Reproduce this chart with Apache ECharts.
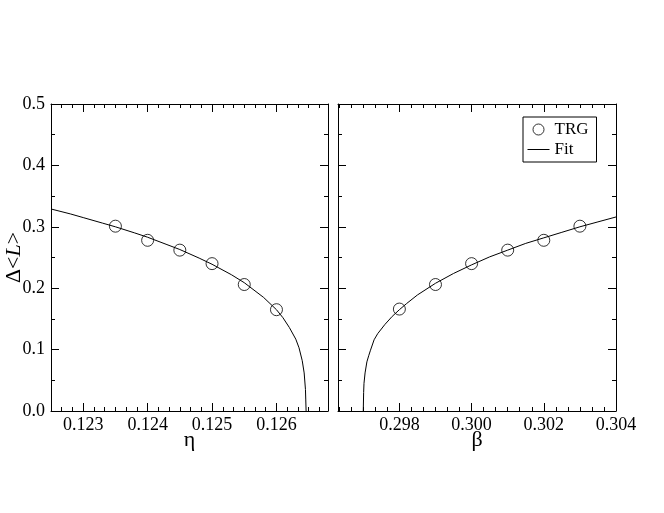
<!DOCTYPE html>
<html>
<head>
<meta charset="utf-8">
<script src="https://cdn.jsdelivr.net/npm/echarts@6/dist/echarts.min.js"></script>
<style>
html, body { margin: 0; padding: 0; background: #fff; }
#main { width: 664px; height: 513px; }
</style>
</head>
<body>
<div id="main"></div>
<script>
// TRG points, eta side
var etaX = [0.1235, 0.1240, 0.1245, 0.1250, 0.1255, 0.1260];
var etaY = [0.301, 0.278, 0.262, 0.240, 0.206, 0.165];
// fit curve, eta side
var etaFitX = [0.1225, 0.1228, 0.1230, 0.1233, 0.1235, 0.1238, 0.1240, 0.1243, 0.1245, 0.1248, 0.1250, 0.1253, 0.1255, 0.1258, 0.1260, 0.1261, 0.1262, 0.1263, 0.12635, 0.1264, 0.12643, 0.12645, 0.126455, 0.12646];
var etaFitY = [0.329, 0.321, 0.315, 0.306, 0.300, 0.290, 0.283, 0.271, 0.263, 0.249, 0.239, 0.222, 0.209, 0.185, 0.165, 0.152, 0.136, 0.117, 0.103, 0.082, 0.062, 0.035, 0.018, 0.0];
// TRG points, beta side
var betaX = [0.298, 0.299, 0.300, 0.301, 0.302, 0.303];
var betaY = [0.166, 0.206, 0.240, 0.262, 0.278, 0.301];
// fit curve, beta side
var betaFitX = [0.2970, 0.29701, 0.29702, 0.29705, 0.2971, 0.29715, 0.2972, 0.2973, 0.2974, 0.2976, 0.2978, 0.2980, 0.2982, 0.2985, 0.2990, 0.2995, 0.3000, 0.3005, 0.3010, 0.3015, 0.3020, 0.3025, 0.3030, 0.3035, 0.3040];
var betaFitY = [0.0, 0.030, 0.045, 0.062, 0.080, 0.090, 0.099, 0.116, 0.126, 0.141, 0.154, 0.165, 0.175, 0.189, 0.208, 0.224, 0.238, 0.251, 0.262, 0.273, 0.282, 0.291, 0.300, 0.308, 0.316];

function zip(a, b) {
	return a.map(function(v, i) { return [v, b[i]]; });
}

var font = 'Liberation Serif';

function xAxisOf(gi, min, max, pos, name) {
	return {
		type: 'value', gridIndex: gi, position: pos,
		min: min, max: max, splitNumber: 4,
		name: name, nameLocation: 'middle', nameGap: 18, nameMoveOverlap: false,
		nameTextStyle: { fontFamily: font, fontSize: 22, color: '#000' },
		axisLine: { show: true, onZero: false, lineStyle: { color: '#000', width: 1 } },
		axisTick: { show: true, inside: true, length: 8, lineStyle: { color: '#000' } },
		minorTick: { show: true, splitNumber: 6, length: 4, lineStyle: { color: '#000' } },
		axisLabel: {
			show: pos == 'bottom', showMinLabel: false, showMaxLabel: min > 0.2, margin: 5,
			fontFamily: font, fontSize: 18, color: '#000',
			formatter: function(v) { return v.toFixed(3); }
		},
		splitLine: { show: false }
	};
}

function yAxisOf(gi, pos, labels, name) {
	return {
		type: 'value', gridIndex: gi, position: pos,
		min: 0, max: 0.5, interval: 0.1,
		name: name || '', nameLocation: 'middle', nameGap: 26, nameRotate: 90, nameMoveOverlap: false,
		nameTextStyle: {
			fontFamily: font, fontSize: 22, color: '#000',
			rich: { i: { fontFamily: font, fontSize: 22, fontStyle: 'italic', color: '#000' } }
		},
		axisLine: { show: true, onZero: false, lineStyle: { color: '#000', width: 1 } },
		axisTick: { show: true, inside: true, length: 8, lineStyle: { color: '#000' } },
		minorTick: { show: true, splitNumber: 2, length: 4, lineStyle: { color: '#000' } },
		axisLabel: {
			show: labels, margin: 6,
			fontFamily: font, fontSize: 18, color: '#000',
			formatter: function(v) { return v.toFixed(1); }
		},
		splitLine: { show: false }
	};
}

var chart = echarts.init(document.getElementById('main'));
var option = {
	backgroundColor: '#fff',
	animation: false,
	grid: [
		{ left: 51, top: 104, width: 277, height: 307, outerBoundsMode: 'none' },
		{ left: 338, top: 104, width: 278, height: 307, outerBoundsMode: 'none' }
	],
	legend: {
		left: 523, top: 117,
		orient: 'vertical',
		itemGap: 3, itemWidth: 22, itemHeight: 11,
		padding: [4, 8, 4, 4],
		borderColor: '#000', borderWidth: 1,
		textStyle: { fontFamily: font, fontSize: 17, color: '#000' },
		data: [
			{ name: 'TRG', icon: 'circle', itemStyle: { color: '#fff', borderColor: '#000', borderWidth: 1 } },
			{ name: 'Fit', itemStyle: { opacity: 0 }, lineStyle: { color: '#000', width: 1 } }
		]
	},
	xAxis: [
		xAxisOf(0, 0.1225, 0.1268, 'bottom', 'η'),
		xAxisOf(0, 0.1225, 0.1268, 'top', ''),
		xAxisOf(1, 0.2963, 0.304, 'bottom', 'β'),
		xAxisOf(1, 0.2963, 0.304, 'top', '')
	],
	yAxis: [
		yAxisOf(0, 'left', true, 'Δ<{i|L}>'),
		yAxisOf(0, 'right', false),
		yAxisOf(1, 'left', false),
		yAxisOf(1, 'right', false)
	],
	series: [
		{
			name: 'Fit', type: 'line', xAxisIndex: 0, yAxisIndex: 0,
			data: zip(etaFitX, etaFitY), symbol: 'none', showSymbol: false,
			lineStyle: { color: '#000', width: 1 }, itemStyle: { color: '#000' }
		},
		{
			name: 'TRG', type: 'scatter', xAxisIndex: 0, yAxisIndex: 0,
			data: zip(etaX, etaY), symbol: 'circle', symbolSize: 12,
			itemStyle: { color: 'rgba(255,255,255,0)', borderColor: '#000', borderWidth: 1 }
		},
		{
			name: 'Fit', type: 'line', xAxisIndex: 2, yAxisIndex: 2,
			data: zip(betaFitX, betaFitY), symbol: 'none', showSymbol: false,
			lineStyle: { color: '#000', width: 1 }, itemStyle: { color: '#000' }
		},
		{
			name: 'TRG', type: 'scatter', xAxisIndex: 2, yAxisIndex: 2,
			data: zip(betaX, betaY), symbol: 'circle', symbolSize: 12,
			itemStyle: { color: 'rgba(255,255,255,0)', borderColor: '#000', borderWidth: 1 }
		}
	]
};
chart.setOption(option);
</script>
</body>
</html>
